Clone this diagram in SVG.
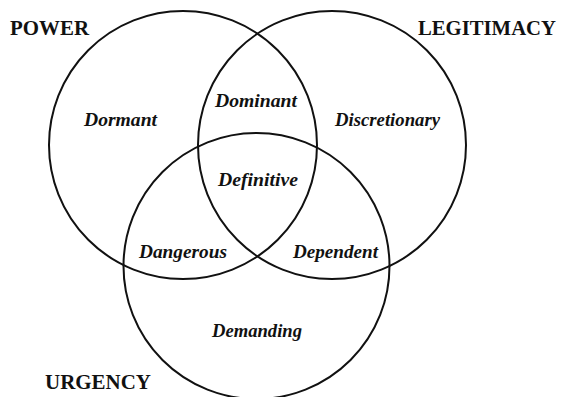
<svg xmlns="http://www.w3.org/2000/svg" width="563" height="397" viewBox="0 0 563 397">
  <style>
    .set { fill: none; stroke: #111; stroke-width: 2; }
    .title { font-family: "Liberation Serif", "Times New Roman", serif; font-weight: bold; font-size: 22px; fill: #111; }
    .region { font-family: "Liberation Serif", "Times New Roman", serif; font-weight: bold; font-style: italic; font-size: 19px; fill: #111; }
  </style>
  <rect width="563" height="397" fill="#fff"/>

  <!-- attribute circles -->
  <g id="power">
    <circle class="set" cx="183" cy="145" r="134"/>
    <text class="title" x="10" y="35" textLength="79" lengthAdjust="spacingAndGlyphs">POWER</text>
  </g>
  <g id="legitimacy">
    <circle class="set" cx="332" cy="145" r="134"/>
    <text class="title" x="418" y="35" textLength="138" lengthAdjust="spacingAndGlyphs">LEGITIMACY</text>
  </g>
  <g id="urgency">
    <circle class="set" cx="256.5" cy="266" r="133"/>
    <text class="title" x="45" y="389" textLength="106" lengthAdjust="spacingAndGlyphs">URGENCY</text>
  </g>

  <!-- stakeholder classes -->
  <g id="dormant"><text class="region" x="84" y="126" textLength="73" lengthAdjust="spacingAndGlyphs">Dormant</text></g>
  <g id="discretionary"><text class="region" x="335" y="126" textLength="105" lengthAdjust="spacingAndGlyphs">Discretionary</text></g>
  <g id="dominant"><text class="region" x="215" y="107" textLength="82" lengthAdjust="spacingAndGlyphs">Dominant</text></g>
  <g id="definitive"><text class="region" x="218" y="186" textLength="80" lengthAdjust="spacingAndGlyphs">Definitive</text></g>
  <g id="dangerous"><text class="region" x="139" y="258" textLength="88" lengthAdjust="spacingAndGlyphs">Dangerous</text></g>
  <g id="dependent"><text class="region" x="293" y="258" textLength="85" lengthAdjust="spacingAndGlyphs">Dependent</text></g>
  <g id="demanding"><text class="region" x="212" y="337" textLength="90" lengthAdjust="spacingAndGlyphs">Demanding</text></g>

  <g id="connectors"></g>
</svg>
